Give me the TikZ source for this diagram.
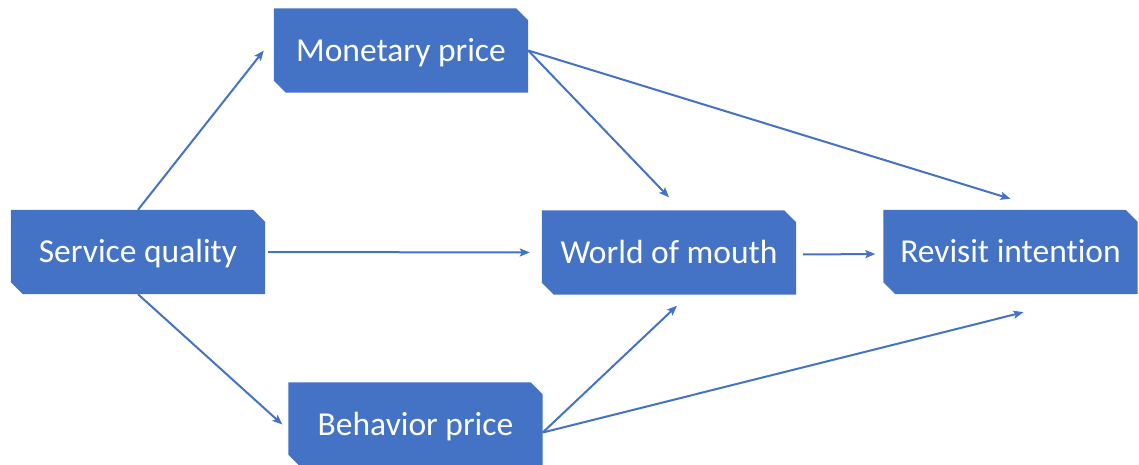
\documentclass[tikz,border=0pt]{standalone}
\usepackage{fontspec}
\setmainfont{Carlito}[Ligatures=NoCommon]
\usetikzlibrary{arrows.meta}
\definecolor{boxblue}{HTML}{4472C4}
\pgfdeclarelayer{background}
\pgfsetlayers{background,main}
\begin{document}
\begin{tikzpicture}[x=1pt,y=-1pt,
  box/.style={rectangle,inner sep=0pt,minimum width=254pt,minimum height=84pt,text height=21.6pt,text depth=0pt,text=white,font=\fontsize{33.5}{40}\selectfont},
  link/.style={draw=boxblue,line width=2pt,-{Stealth[length=10pt,width=8pt,inset=2pt]}}]
\clip (0,0) rectangle (1139,464);
\useasboundingbox (0,0) rectangle (1139,464);
\node[box] (sq)  at (138,252)    {Service quality};
\node[box] (mp)  at (401,50.5)   {Monetary price};
\node[box] (wom) at (669,252.5)  {World of mouth};
\node[box] (ri)  at (1010.5,252) {Revisit intention};
\node[box] (bp)  at (415.5,424.5){Behavior price};
\begin{pgfonlayer}{background}
\foreach \n in {sq,mp,wom,ri,bp}{
  \fill[boxblue] (\n.north west) -- ([xshift=-12pt]\n.north east) -- ([yshift=-12pt]\n.north east)
    -- (\n.south east) -- ([xshift=12pt]\n.south west) -- ([yshift=12pt]\n.south west) -- cycle;
}
\end{pgfonlayer}
\draw[link] (sq.north) -- ([xshift=-10pt]mp.west);
\draw[link] (sq.south) -- ([xshift=-6pt]bp.west);
\draw[link,shorten <=3pt,shorten >=12pt] (sq.east) -- (wom.west);
\draw[link] (mp.east) -- ([yshift=13pt]wom.north);
\draw[link] (mp.east) -- ([yshift=11pt]ri.north);
\draw[link,shorten <=7pt,shorten >=8pt] ([yshift=-2pt]wom.east) -- ([yshift=-2pt]ri.west);
\draw[link] ([yshift=-8pt]bp.east) -- ([xshift=8pt,yshift=-11pt]wom.south);
\draw[link] ([yshift=-8pt]bp.east) -- ([xshift=13pt,yshift=-18pt]ri.south);
\end{tikzpicture}
\end{document}
